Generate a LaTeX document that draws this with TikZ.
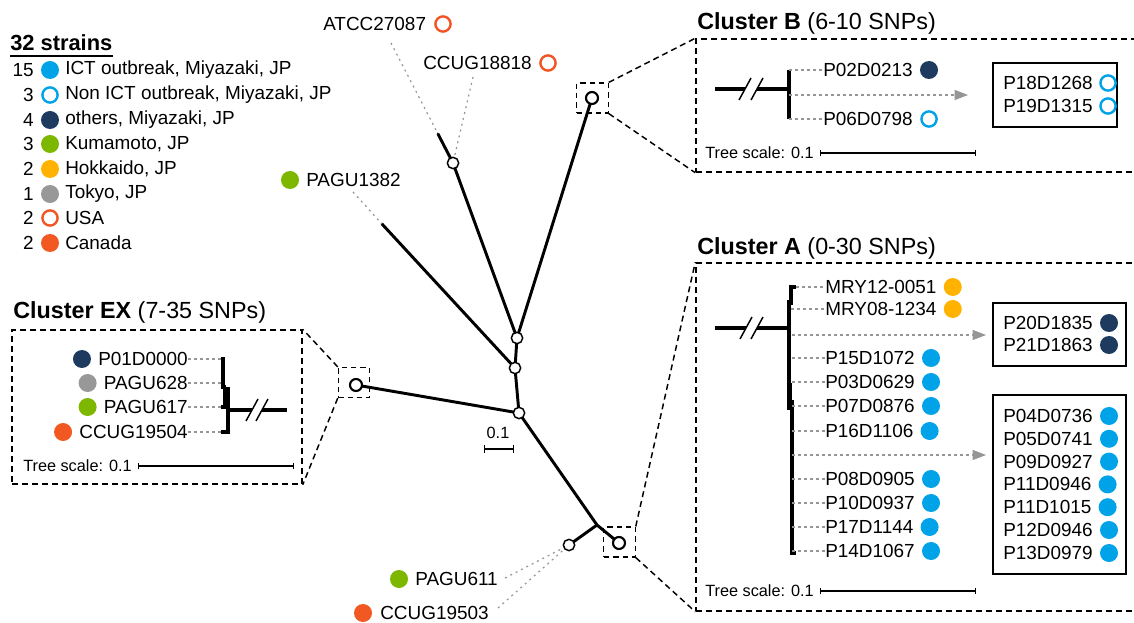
\documentclass[tikz,border=0pt]{standalone}
\usepackage{fontspec}
\setmainfont{Liberation Sans}
\usetikzlibrary{arrows.meta,calc,fit}

\definecolor{ictblue}{RGB}{0,162,232}
\definecolor{navy}{RGB}{30,58,95}
\definecolor{kgreen}{RGB}{125,183,0}
\definecolor{hyellow}{RGB}{255,178,0}
\definecolor{tgray}{RGB}{152,152,152}
\definecolor{usared}{RGB}{242,85,35}
\definecolor{canred}{RGB}{242,88,34}
\definecolor{leadgray}{RGB}{150,150,150}

\begin{document}
\begin{tikzpicture}[x=0.75pt,y=-0.75pt,
  txt/.style={font=\fontsize{14.2}{16}\selectfont, inner sep=0pt},
  ttl/.style={font=\fontsize{17.5}{20}\selectfont, inner sep=0pt, anchor=west},
  smalltxt/.style={font=\fontsize{12.2}{14}\selectfont, inner sep=0pt},
  leafdot/.style={circle, fill=#1, minimum size=13.5pt, inner sep=0pt},
  leafring/.style={circle, draw=#1, line width=1.8pt, minimum size=11.4pt, inner sep=0pt},
  branch/.style={line width=2.2pt, line cap=round},
  twig/.style={line width=2.3pt},
  slash/.style={line width=1.1pt},
  leaderline/.style={draw=leadgray, line width=0.8pt, dash pattern=on 2.5pt off 2pt},
  farleader/.style={draw=leadgray, line width=0.9pt, dash pattern=on 1.5pt off 3pt},
  inode/.style={circle, draw, fill=white, line width=1.1pt, minimum size=8.5pt, inner sep=0pt},
  cnode/.style={circle, draw, fill=white, line width=1.6pt, minimum size=9pt, inner sep=0pt},
  zoombox/.style={draw, line width=0.9pt, dash pattern=on 4pt off 3pt, minimum width=23.5pt, minimum height=22.5pt, inner sep=0pt},
  bigbox/.style={draw, line width=1.1pt, dash pattern=on 4.5pt off 3pt, inner sep=0pt},
  zoomline/.style={line width=1.1pt, dash pattern=on 4.5pt off 3pt},
  listbox/.style={draw, line width=1.1pt, inner sep=0pt},
  pointer/.style={draw=leadgray, line width=0.8pt, dash pattern=on 2.5pt off 2pt, -{Triangle[length=10pt,width=7.5pt]}},
  scalebar/.style={line width=0.8pt, {Bar[width=5pt]}-{Bar[width=5pt]}},
]
\useasboundingbox (0,0) rectangle (1134,623);

% ---------------- legend ----------------
\node[font=\fontsize{16.4}{18}\selectfont\bfseries, inner sep=0pt, anchor=west] (legtitle) at (10,43) {32 strains};
\draw[line width=1.2pt] ($(legtitle.base west)+(0,5)$) -- ($(legtitle.base east)+(0,5)$);

\node[txt, anchor=east] (ln1) at (34,70) {15};
\node[leafdot=ictblue] (ld1) at (50,70) {};
\node[txt, anchor=west] (lt1) at (65,70) {ICT outbreak, Miyazaki, JP};
\node[txt, anchor=east] (ln2) at (34,95) {3};
\node[leafring=ictblue] (ld2) at (50,95) {};
\node[txt, anchor=west] (lt2) at (65,95) {Non ICT outbreak, Miyazaki, JP};
\node[txt, anchor=east] (ln3) at (34,120) {4};
\node[leafdot=navy] (ld3) at (50,120) {};
\node[txt, anchor=west] (lt3) at (65,120) {others, Miyazaki, JP};
\node[txt, anchor=east] (ln4) at (34,144) {3};
\node[leafdot=kgreen] (ld4) at (50,144) {};
\node[txt, anchor=west] (lt4) at (65,144) {Kumamoto, JP};
\node[txt, anchor=east] (ln5) at (34,169) {2};
\node[leafdot=hyellow] (ld5) at (50,169) {};
\node[txt, anchor=west] (lt5) at (65,169) {Hokkaido, JP};
\node[txt, anchor=east] (ln6) at (34,194) {1};
\node[leafdot=tgray] (ld6) at (50,194) {};
\node[txt, anchor=west] (lt6) at (65,194) {Tokyo, JP};
\node[txt, anchor=east] (ln7) at (34,218) {2};
\node[leafring=usared] (ld7) at (50,218) {};
\node[txt, anchor=west] (lt7) at (65,218) {USA};
\node[txt, anchor=east] (ln8) at (34,243) {2};
\node[leafdot=canred] (ld8) at (50,243) {};
\node[txt, anchor=west] (lt8) at (65,243) {Canada};

% ---------------- zoom frames ----------------
\node[bigbox, fit={(12,330) (302,484)}] (exbig) {};
\node[bigbox, fit={(696,39) (1140,172)}] (bbig) {};
\node[bigbox, fit={(696,263) (1140,611)}] (abig) {};
\node[zoombox] (exz) at (354,382.5) {};
\node[zoombox] (bz) at (592.5,98) {};
\node[zoombox] (az) at (619.5,542) {};
\draw[zoomline] (exz.north west) -- (exbig.north east);
\draw[zoomline] (exz.south west) -- (exbig.south east);
\draw[zoomline] (bz.north east) -- (bbig.north west);
\draw[zoomline] (bz.south east) -- (bbig.south west);
\draw[zoomline] (az.north east) -- (abig.north west);
\draw[zoomline] (az.south east) -- (abig.south west);

% ---------------- unrooted tree ----------------
\coordinate (nI) at (453,163);
\coordinate (nA) at (517,338);
\coordinate (nB) at (515,368);
\coordinate (nC) at (519,413);
\coordinate (nD) at (597,525);
\coordinate (nE) at (569,545);
\coordinate (nF) at (619,543);
\coordinate (nG) at (356,385);
\coordinate (nH) at (592,98);
\coordinate (tATCC) at (438,134);
\coordinate (tPAGU) at (382,224);

\draw[branch] (tATCC) -- (nI) -- (nA);
\draw[branch] (nH) -- (nA) -- (nB) -- (nC) -- (nD) -- (nF);
\draw[branch] (tPAGU) -- (nB);
\draw[branch] (nG) -- (nC);
\draw[branch] (nD) -- (nE);

% tip labels
\node[txt, anchor=west] (atcc) at (323,24) {ATCC27087};
\node[leafring=usared] (atccd) at (443,24) {};
\coordinate (atccend) at (391,43);
\draw[farleader] (atccend) -- (tATCC);

\node[txt, anchor=west] (ccugA) at (423,63) {CCUG18818};
\node[leafring=usared] (ccugAd) at (548,63) {};
\coordinate (ccugAend) at (473,77);
\draw[farleader] (ccugAend) -- (nI);

\node[leafdot=kgreen] (pagu1382d) at (290,180) {};
\node[txt, anchor=west] (pagu1382) at (306,180) {PAGU1382};
\coordinate (pagu1382end) at (353,192);
\draw[farleader] (pagu1382end) -- (tPAGU);

\node[leafdot=kgreen] (pagu611d) at (399,579) {};
\node[txt, anchor=west] (pagu611) at (415,579) {PAGU611};
\coordinate (pagu611end) at (505,578);
\draw[farleader] (pagu611end) -- (nE);

\node[leafdot=canred] (ccugBd) at (363,613) {};
\node[txt, anchor=west] (ccugB) at (380,613) {CCUG19503};
\coordinate (ccugBend) at (498,608);
\draw[farleader] (ccugBend) -- (nE);

% internal nodes
\node[inode] at (nI) {};
\node[inode] at (nA) {};
\node[inode] at (nB) {};
\node[inode] at (nC) {};
\node[inode] at (nE) {};
\node[cnode] at (nF) {};
\node[cnode] at (nG) {};
\node[cnode] at (nH) {};

% scale of the unrooted tree
\node[smalltxt] (cscale) at (498,433) {0.1};
\draw[line width=1.1pt, {Bar[width=6pt]}-{Bar[width=6pt]}] (484,449) -- (514,449);

% ---------------- Cluster EX ----------------
\node[ttl] (exT) at (13,312) {\textbf{Cluster EX} (7-35 SNPs)};
\node[txt, anchor=east] (ex1) at (188,359) {P01D0000};
\node[txt, anchor=east] (ex2) at (188,383) {PAGU628};
\node[txt, anchor=east] (ex3) at (188,407) {PAGU617};
\node[txt, anchor=east] (ex4) at (188,432) {CCUG19504};
\node[leafdot=navy] at ($(ex1.west)+(-16,0)$) {};
\node[leafdot=tgray] at ($(ex2.west)+(-16,0)$) {};
\node[leafdot=kgreen] at ($(ex3.west)+(-16,0)$) {};
\node[leafdot=canred] at ($(ex4.west)+(-16,0)$) {};
\coordinate (ext1) at (221,359);
\coordinate (ext2) at (222,383);
\coordinate (ext3) at (221,407);
\coordinate (ext4) at (221,432);
\draw[leaderline] (ex1.east) -- (ext1);
\draw[leaderline] (ex2.east) -- (ext2);
\draw[leaderline] (ex3.east) -- (ext3);
\draw[leaderline] (ex4.east) -- (ext4);
\draw[twig] (ext1) -| (223,387) -- (226,387);
\draw[twig] (ext3) -| (225,387);
\draw[twig] (225,389) -| (228,432) -- (ext4);
\draw[twig] (228,410) -- (252,410);
\draw[twig] (262,410) -- (287,410);
\draw[slash] (246,421) -- (258,399);
\draw[slash] (256,421) -- (268,399);
\node[smalltxt, anchor=west] (exsc) at (23,466) {Tree scale: 0.1};
\draw[scalebar] (138,466) -- (294,466);

% ---------------- Cluster B ----------------
\node[ttl] (bT) at (697,23) {\textbf{Cluster B} (6-10 SNPs)};
\draw[twig] (715,89) -- (745,89);
\draw[twig] (757,89) -- (789,89);
\draw[slash] (739,100) -- (751,78);
\draw[slash] (751,100) -- (763,78);
\draw[twig] (789,70) -- (789,119);
\node[txt, anchor=west] (b1) at (823,70) {P02D0213};
\node[txt, anchor=west] (b2) at (823,119) {P06D0798};
\node[leafdot=navy] at ($(b1.east)+(16,0)$) {};
\node[leafring=ictblue] at ($(b2.east)+(16,0)$) {};
\coordinate (bt1) at (789,70);
\coordinate (bt2) at (789,119);
\coordinate (bt3) at (789,95);
\coordinate (barr) at (968,95);
\draw[leaderline] (bt1) -- (b1.west);
\draw[leaderline] (bt2) -- (b2.west);
\draw[pointer] (bt3) -- (barr);
\node[listbox, fit={(993,63) (1117,127)}] (blist) {};
\node[txt, anchor=west] (b3) at (1003,83) {P18D1268};
\node[txt, anchor=west] (b4) at (1003,106) {P19D1315};
\node[leafring=ictblue] at ($(b3.east)+(15,0)$) {};
\node[leafring=ictblue] at ($(b4.east)+(15,0)$) {};
\node[smalltxt, anchor=west] (bsc) at (705,153) {Tree scale: 0.1};
\draw[scalebar] (820,153) -- (976,153);

% ---------------- Cluster A ----------------
\node[ttl] (aT) at (697,248) {\textbf{Cluster A} (0-30 SNPs)};
\draw[twig] (715,328) -- (746,328);
\draw[twig] (757,328) -- (789,328);
\draw[slash] (740,339) -- (752,317);
\draw[slash] (751,339) -- (763,317);
\draw[twig] (796,287) -- (791,287) -- (791,305);
\draw[twig] (789,300) -- (789,410);
\draw[line width=3.4pt] (789.6,383) -- (789.6,407);
\draw[twig] (792,400) -- (792,553) -- (796,553);

\node[txt, anchor=west] (a1) at (825,287) {MRY12-0051};
\node[txt, anchor=west] (a2) at (825,309) {MRY08-1234};
\node[txt, anchor=west] (a3) at (825,358) {P15D1072};
\node[txt, anchor=west] (a4) at (825,382) {P03D0629};
\node[txt, anchor=west] (a5) at (825,406) {P07D0876};
\node[txt, anchor=west] (a6) at (825,431) {P16D1106};
\node[txt, anchor=west] (a7) at (825,479) {P08D0905};
\node[txt, anchor=west] (a8) at (825,503) {P10D0937};
\node[txt, anchor=west] (a9) at (825,527) {P17D1144};
\node[txt, anchor=west] (a10) at (825,551) {P14D1067};
\node[leafdot=hyellow] at ($(a1.east)+(16,0)$) {};
\node[leafdot=hyellow] at ($(a2.east)+(16,0)$) {};
\foreach \k in {3,...,10} {
  \node[leafdot=ictblue] at ($(a\k.east)+(16,0)$) {};
  \draw[leaderline] (a\k.west -| 792,0) -- (a\k.west);
}
\draw[leaderline] (a1.west -| 796,0) -- (a1.west);
\draw[leaderline] (a2.west -| 791,0) -- (a2.west);
\coordinate (at1) at (792,335);
\coordinate (aarr1) at (986,335);
\coordinate (at2) at (792,455);
\coordinate (aarr2) at (986,455);
\draw[pointer] (at1) -- (aarr1);
\draw[pointer] (at2) -- (aarr2);

\node[listbox, fit={(993,303) (1126,366)}] (alist1) {};
\node[txt, anchor=west] (c1) at (1003,323) {P20D1835};
\node[txt, anchor=west] (c2) at (1003,345) {P21D1863};
\node[leafdot=navy] at ($(c1.east)+(16,0)$) {};
\node[leafdot=navy] at ($(c2.east)+(16,0)$) {};

\node[listbox, fit={(993,395) (1126,574)}] (alist2) {};
\node[txt, anchor=west] (d1) at (1003,416) {P04D0736};
\node[txt, anchor=west] (d2) at (1003,438.8) {P05D0741};
\node[txt, anchor=west] (d3) at (1003,461.6) {P09D0927};
\node[txt, anchor=west] (d4) at (1003,484.4) {P11D0946};
\node[txt, anchor=west] (d5) at (1003,507.2) {P11D1015};
\node[txt, anchor=west] (d6) at (1003,530) {P12D0946};
\node[txt, anchor=west] (d7) at (1003,553) {P13D0979};
\foreach \k in {1,...,7} {
  \node[leafdot=ictblue] at ($(d\k.east)+(16,0)$) {};
}
\node[smalltxt, anchor=west] (asc) at (705,591) {Tree scale: 0.1};
\draw[scalebar] (820,591) -- (976,591);
\end{tikzpicture}
\end{document}
